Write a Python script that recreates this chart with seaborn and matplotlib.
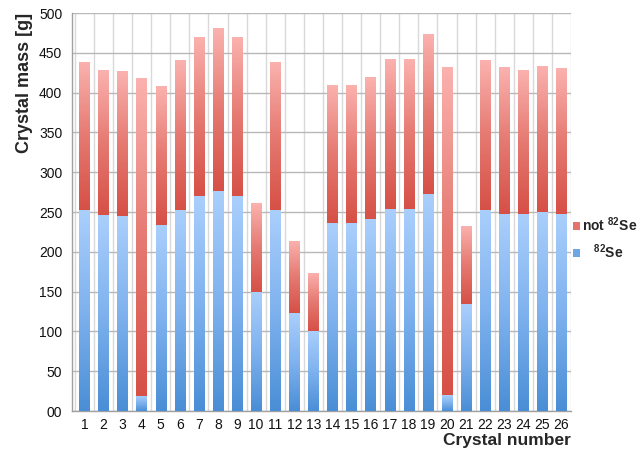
import numpy as np
import pandas as pd
import matplotlib
matplotlib.use("Agg")
import matplotlib.pyplot as plt
import seaborn as sns
from matplotlib.colors import LinearSegmentedColormap
from matplotlib.patches import Patch

crystals = [str(i) for i in range(1, 27)]
total_mass = [439, 428, 427, 418, 408, 441, 470, 481, 470, 261, 438, 214, 174,
              410, 410, 419, 442, 442, 474, 432, 232, 441, 432, 429, 434, 431]
se82_mass = [252, 246, 245, 19, 234, 253, 270, 277, 270, 150, 252, 123, 100,
             236, 236, 241, 254, 254, 272, 20, 134, 253, 248, 247, 250, 248]
y_ticks = [0, 50, 100, 150, 200, 250, 300, 350, 400, 450, 500]
y_tick_labels = ["00", "50", "100", "150", "200", "250", "300", "350", "400", "450", "500"]

df = pd.DataFrame({"crystal": crystals, "total": total_mass, "se82": se82_mass})

sns.set_theme(style="white")
plt.rcParams["font.family"] = ["Liberation Sans", "DejaVu Sans"]
plt.rcParams["mathtext.fontset"] = "custom"
plt.rcParams["mathtext.rm"] = "Liberation Sans"
plt.rcParams["mathtext.bf"] = "Liberation Sans:bold"

fig = plt.figure(figsize=(6.44, 4.53), dpi=100)
ax = fig.add_axes([0.1118, 0.0927, 0.775, 0.8786])

width = 0.55
sns.barplot(data=df, x="crystal", y="total", order=crystals, width=width,
            color="#e06a60", ax=ax, zorder=2)
n_red = len(ax.patches)
sns.barplot(data=df, x="crystal", y="se82", order=crystals, width=width,
            color="#6fa6e6", ax=ax, zorder=3)
red_patches = ax.patches[:n_red]
blue_patches = ax.patches[n_red:]

red_cmap = LinearSegmentedColormap.from_list("red", ["#d65046", "#e57a72", "#fbb2af"])
blue_cmap = LinearSegmentedColormap.from_list("blue", ["#4a8ed6", "#7fb2ee", "#aacffc"])
grad = np.linspace(0, 1, 256).reshape(-1, 1)

for p, lo, hi in zip(red_patches, se82_mass, total_mass):
    x0 = p.get_x(); w = p.get_width()
    im = ax.imshow(grad, cmap=red_cmap, extent=[x0, x0 + w, lo, hi],
                   origin="lower", aspect="auto", zorder=2.5, interpolation="bilinear")
    im.set_clip_path(p)
    p.set_facecolor("none")
    p.set_edgecolor("none")

for p, hi in zip(blue_patches, se82_mass):
    x0 = p.get_x(); w = p.get_width()
    im = ax.imshow(grad, cmap=blue_cmap, extent=[x0, x0 + w, 0, hi],
                   origin="lower", aspect="auto", zorder=3.5, interpolation="bilinear")
    im.set_clip_path(p)
    p.set_facecolor("none")
    p.set_edgecolor("none")

ax.set_xlim(-0.65, 25.48)
ax.set_ylim(0, 500)
ax.set_yticks(y_ticks)
ax.set_yticklabels(y_tick_labels)
ax.set_xticks(range(len(crystals)))
ax.set_xticklabels(crystals)
ax.set_xticks(np.arange(-0.5, 26, 0.5), minor=True)

ax.set_axisbelow(True)
ax.grid(axis="y", which="major", color="#b8b8b8", linewidth=1.0, zorder=0)
ax.grid(axis="x", which="minor", color="#d9d9d9", linewidth=1.0, zorder=0)
ax.grid(axis="x", which="major", visible=False)

for s in ["top", "right"]:
    ax.spines[s].set_visible(False)
for s in ["left", "bottom"]:
    ax.spines[s].set_color("#a0a0a0")
    ax.spines[s].set_linewidth(1.0)

ax.tick_params(axis="both", which="both", length=0, labelsize=10, colors="#111111")
ax.tick_params(axis="x", pad=5)
ax.tick_params(axis="y", pad=7)

ax.set_xlabel("Crystal number", fontsize=12.5, fontweight="bold", loc="right", labelpad=1)
ax.set_ylabel("Crystal mass [g]", fontsize=13, fontweight="bold", loc="top", labelpad=4)

handles = [Patch(facecolor="#e5736b", edgecolor="none"),
           Patch(facecolor="#6fa6e6", edgecolor="none")]
labels = [r"not $\mathbf{^{82}}$Se", r"   $\mathbf{^{82}}$Se"]
leg = ax.legend(handles, labels, loc="center left", bbox_to_anchor=(0.992, 0.435),
                frameon=False, handlelength=0.5, handleheight=0.5,
                handletextpad=0.2, labelspacing=0.6, borderaxespad=0,
                prop={"weight": "bold", "size": 10})

fig.savefig("out.png", dpi=100)
